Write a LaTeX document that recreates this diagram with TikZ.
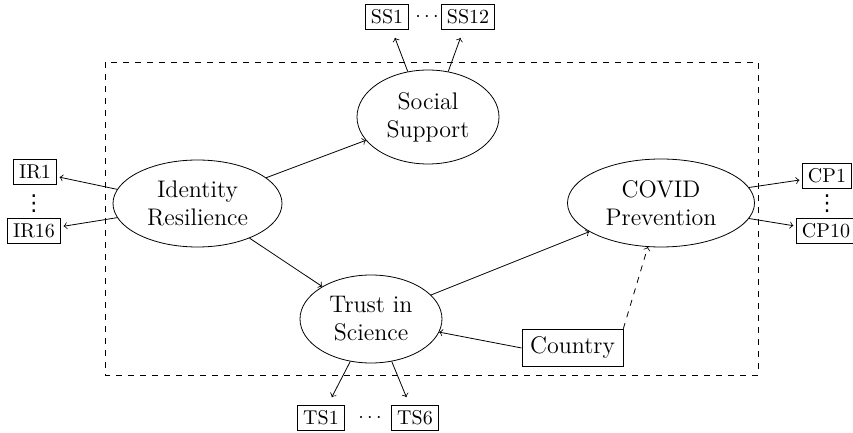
\documentclass[tikz,border=0pt]{standalone}
\usepackage{fontspec}
\usetikzlibrary{shapes.geometric}
\newfontfamily\djv{DejaVu Sans}
\begin{document}
\begin{tikzpicture}[x=0.5pt,y=-0.5pt,
  lat/.style={ellipse,draw,align=center,font=\large,inner sep=0pt},
  ind/.style={rectangle,draw,inner xsep=2.8pt,inner ysep=2.8pt,outer xsep=1.5pt,outer ysep=4pt},
  cov/.style={rectangle,draw,font=\large,inner sep=4pt},
  dots/.style={inner sep=0pt},
  vdot/.style={inner sep=0pt,font=\djv\fontsize{11}{11}\selectfont},
  arr/.style={->}]
\useasboundingbox (0,0) rectangle (853,433);
\draw[dashed] (105,62) rectangle (758,375);

\node[lat,minimum width=84.5pt,minimum height=43.5pt] (ir) at (197.5,203.5) {Identity\\Resilience};
\node[lat,minimum width=71pt,minimum height=47pt] (ss) at (428,117) {Social\\Support};
\node[lat,minimum width=93.5pt,minimum height=44pt] (cp) at (661,203) {COVID\\Prevention};
\node[lat,minimum width=71pt,minimum height=44pt] (ts) at (371,319) {Trust in\\Science};

\node[ind] (ss1) at (387,17) {SS1};
\node[dots] (ssd) at (427,17) {$\cdots$};
\node[ind] (ss12) at (468,17) {SS12};
\node[ind] (ir1) at (35,172) {IR1};
\node[vdot] (ird) at (34,204) {⋮};
\node[ind] (ir16) at (34,231) {IR16};
\node[ind] (cp1) at (827,176) {CP1};
\node[vdot] (cpd) at (827,204) {⋮};
\node[ind] (cp10) at (826,231) {CP10};
\node[ind] (ts1) at (321,418) {TS1};
\node[dots] (tsd) at (370,418) {$\cdots$};
\node[ind] (ts6) at (415,418) {TS6};
\node[cov] (ctry) at (572.5,348) {Country};

\draw[arr] (ir) -- (ss);
\draw[arr] (ir) -- (ts);
\draw[arr] (ts) -- (cp);
\draw[arr] (ctry.west) -- (ts);
\draw[arr,dashed] (ctry.north east) -- (cp);
\draw[arr] (ir.170) -- (ir1);
\draw[arr] (ir.190) -- (ir16);
\draw[arr] (cp.10) -- (cp1);
\draw[arr] (cp.-10) -- (cp10);
\draw[arr] (ss.114) -- (ss1);
\draw[arr] (ss.66) -- (ss12);
\draw[arr] (ts.-116) -- (ts1);
\draw[arr] (ts.-64) -- (ts6);
\end{tikzpicture}
\end{document}
